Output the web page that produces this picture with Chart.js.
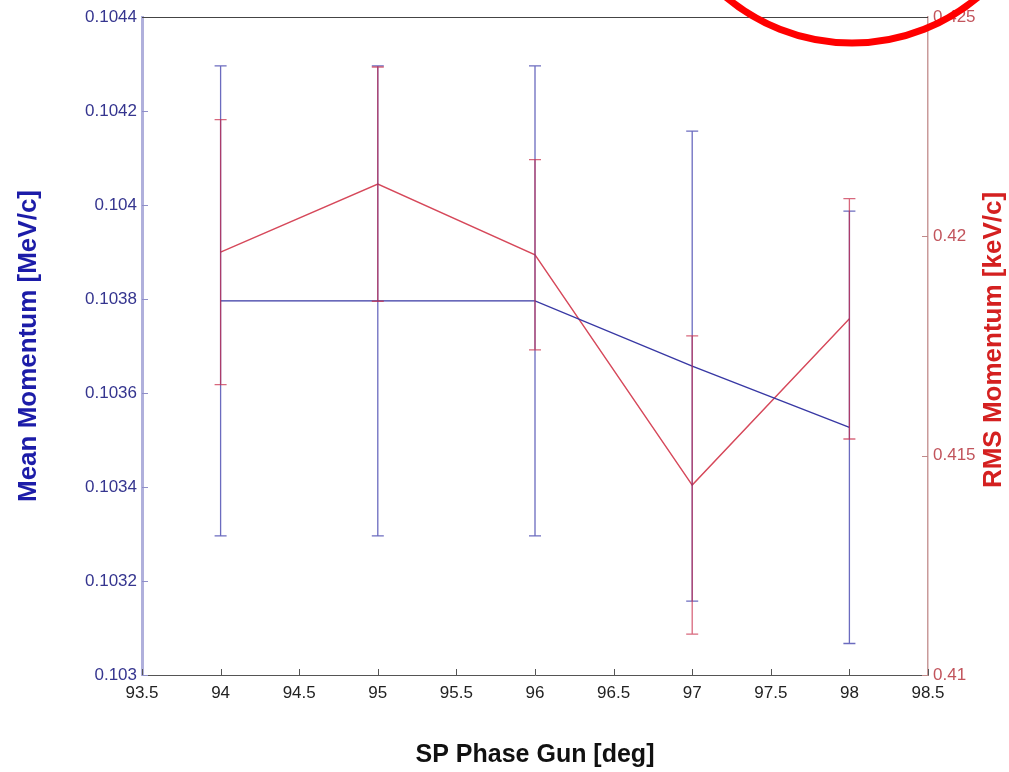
<!DOCTYPE html>
<html>
<head>
<meta charset="utf-8">
<title>SP Phase Gun scan</title>
<script src="https://cdn.jsdelivr.net/npm/chart.js@4.4.1/dist/chart.umd.min.js"></script>
<style>
  body { margin: 0; background: #fff; }
  #wrap { position: relative; width: 1009px; height: 772px; }
</style>
</head>
<body>
<div id="wrap">
  <canvas id="phaseChart" width="1009" height="772"></canvas>
</div>
<script>
// phase scan values
const phase = [94, 95, 96, 97, 98];
const meanMomentum = [0.103796, 0.103796, 0.103796, 0.103657, 0.103527];
const meanErr = [0.0005, 0.0005, 0.0005, 0.0005, 0.00046];
const rmsMomentum = [0.41964, 0.42119, 0.41958, 0.41433, 0.41812];
const rmsErr = [0.00302, 0.00267, 0.00217, 0.0034, 0.00274];

const xTicks = [93.5, 94, 94.5, 95, 95.5, 96, 96.5, 97, 97.5, 98, 98.5];
const meanTicks = [0.103, 0.1032, 0.1034, 0.1036, 0.1038, 0.104, 0.1042, 0.1044];
const rmsTicks = [0.41, 0.415, 0.42, 0.425];

const FONT = "'Liberation Sans', Arial, Helvetica, sans-serif";

const toPoints = (vals) => phase.map((x, i) => ({ x: x, y: vals[i] }));
const fixTicks = (list) => (scale) => {
  scale.ticks = list.map((v) => ({ value: v }));
};

// vertical error bars with caps
const errorBars = {
  id: "errorBars",
  afterDatasetsDraw(chart) {
    const ctx = chart.ctx;
    chart.data.datasets.forEach((ds, i) => {
      const meta = chart.getDatasetMeta(i);
      const yScale = chart.scales[ds.yAxisID];
      ctx.save();
      ctx.strokeStyle = ds.errorColor;
      ctx.lineWidth = 1.3;
      meta.data.forEach((pt, j) => {
        const v = ds.data[j].y;
        const e = ds.errors[j];
        const top = yScale.getPixelForValue(v + e);
        const bot = yScale.getPixelForValue(v - e);
        ctx.beginPath();
        ctx.moveTo(pt.x, top);
        ctx.lineTo(pt.x, bot);
        ctx.moveTo(pt.x - 6, top);
        ctx.lineTo(pt.x + 6, top);
        ctx.moveTo(pt.x - 6, bot);
        ctx.lineTo(pt.x + 6, bot);
        ctx.stroke();
      });
      ctx.restore();
    });
  },
};

// matlab style frame: inward ticks, top edge, right label, and the red circle mark
const frame = {
  id: "frame",
  afterDraw(chart) {
    const ctx = chart.ctx;
    const a = chart.chartArea;
    const { x, yMean, yRms } = chart.scales;
    ctx.save();
    ctx.lineWidth = 1;

    ctx.strokeStyle = "#555";
    x.ticks.forEach((t) => {
      const px = Math.round(x.getPixelForValue(t.value)) + 0.5;
      ctx.beginPath();
      ctx.moveTo(px, a.bottom);
      ctx.lineTo(px, a.bottom - 6);
      ctx.stroke();
    });
    ctx.strokeStyle = "#8f8fc8";
    yMean.ticks.forEach((t) => {
      const py = Math.round(yMean.getPixelForValue(t.value)) + 0.5;
      ctx.beginPath();
      ctx.moveTo(a.left, py);
      ctx.lineTo(a.left + 6, py);
      ctx.stroke();
    });
    ctx.strokeStyle = "#c08a8a";
    yRms.ticks.forEach((t) => {
      const py = Math.round(yRms.getPixelForValue(t.value)) + 0.5;
      ctx.beginPath();
      ctx.moveTo(a.right, py);
      ctx.lineTo(a.right - 6, py);
      ctx.stroke();
    });

    ctx.strokeStyle = "#444";
    ctx.beginPath();
    ctx.moveTo(a.left, a.top + 0.5);
    ctx.lineTo(a.right, a.top + 0.5);
    ctx.stroke();

    ctx.fillStyle = "#d42020";
    ctx.font = "bold 26px " + FONT;
    ctx.textAlign = "center";
    ctx.textBaseline = "middle";
    ctx.translate(994, 340);
    ctx.rotate(-Math.PI / 2);
    ctx.fillText("RMS Momentum [keV/c]", 0, 0);
    ctx.restore();

    ctx.save();
    ctx.strokeStyle = "#ff0000";
    ctx.lineWidth = 7;
    ctx.beginPath();
    ctx.arc(852, -153, 196, 0, Math.PI * 2);
    ctx.stroke();
    ctx.restore();
  },
};

const ctx = document.getElementById("phaseChart").getContext("2d");
const phaseChart = new Chart(ctx, {
  type: "line",
  data: {
    datasets: [
      {
        label: "Mean Momentum",
        data: toPoints(meanMomentum),
        errors: meanErr,
        errorColor: "rgba(70, 70, 175, 0.8)",
        yAxisID: "yMean",
        borderColor: "#3838a4",
        borderWidth: 1.4,
        pointRadius: 0,
        tension: 0,
      },
      {
        label: "RMS Momentum",
        data: toPoints(rmsMomentum),
        errors: rmsErr,
        errorColor: "rgba(200, 40, 70, 0.7)",
        yAxisID: "yRms",
        borderColor: "#d6485a",
        borderWidth: 1.4,
        pointRadius: 0,
        tension: 0,
      },
    ],
  },
  options: {
    responsive: false,
    animation: false,
    layout: { padding: { top: 17, left: 0, right: 0, bottom: 0 } },
    plugins: {
      legend: { display: false },
      tooltip: { enabled: false },
    },
    scales: {
      x: {
        type: "linear",
        min: 93.5,
        max: 98.5,
        afterBuildTicks: fixTicks(xTicks),
        afterFit: (s) => { s.height = 97; },
        grid: { display: false, drawTicks: false },
        border: { color: "#555", width: 1 },
        ticks: {
          color: "#222",
          padding: 8,
          maxRotation: 0,
          font: { family: FONT, size: 17 },
          callback: (v) => String(v),
        },
        title: {
          display: true,
          text: "SP Phase Gun [deg]",
          color: "#111",
          padding: { top: 0, bottom: 2 },
          font: { family: FONT, size: 25, weight: "bold" },
        },
      },
      yMean: {
        type: "linear",
        position: "left",
        min: 0.103,
        max: 0.1044,
        afterBuildTicks: fixTicks(meanTicks),
        afterFit: (s) => { s.width = 142; },
        grid: { display: false, drawTicks: false },
        border: { color: "#b0b0dc", width: 3 },
        ticks: {
          color: "#35358f",
          padding: 5,
          font: { family: FONT, size: 17 },
          callback: (v) => String(v),
        },
        title: {
          display: true,
          text: "Mean Momentum [MeV/c]",
          color: "#1c1ca8",
          padding: { top: 13, bottom: 0 },
          font: { family: FONT, size: 26, weight: "bold" },
        },
      },
      yRms: {
        type: "linear",
        position: "right",
        min: 0.41,
        max: 0.425,
        afterBuildTicks: fixTicks(rmsTicks),
        afterFit: (s) => { s.width = 81; },
        grid: { display: false, drawTicks: false },
        border: { color: "#c99a9a", width: 1.5 },
        ticks: {
          color: "#c2545c",
          padding: 5,
          font: { family: FONT, size: 17 },
          callback: (v) => String(v),
        },
      },
    },
  },
  plugins: [errorBars, frame],
});
</script>
</body>
</html>
